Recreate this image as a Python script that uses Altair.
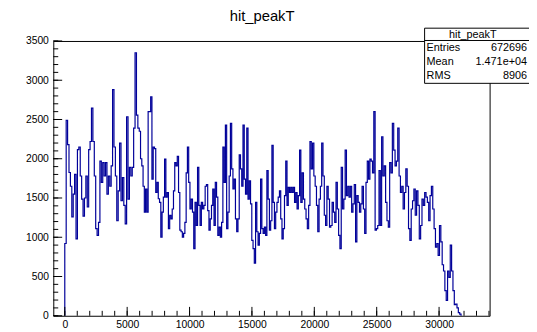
import altair as alt
import pandas as pd

# ---- histogram bin contents (left to right), in five stretches ----
counts_1 = [920, 2490, 2180, 1825, 1650, 1260, 1550, 1800, 980, 2115, 2150, 1780, 1485, 1270,
            1500, 1780, 1385, 2115, 2220, 2645, 2220, 1780, 1110, 1025, 1190, 1970, 1700, 1950,
            1780, 1950, 1550, 1780, 1650, 1910, 2880, 2150, 1780, 1210, 1590, 2200, 1465, 1760,
            1405, 1170, 2535, 1485, 1890, 1780, 1890, 2390, 3350, 2555, 2390]
counts_2 = [2350, 2000, 1910, 1650, 1320, 1615, 1320, 2600, 2600, 2790, 1740, 2150, 2130, 1570,
            1700, 1490, 1445, 1000, 1320, 1510, 1995, 1510, 1570, 1110, 1280, 1235, 1360, 1590,
            1950, 1910, 2030, 1570, 1090, 1070, 1000, 1050, 1190, 1820, 2150, 1700, 1360, 1485,
            1320, 855, 1445, 1150, 1890, 1405, 1150, 1445, 1360, 1405, 1650, 1670, 1340, 1090,
            1235, 1405, 1615, 1150, 1700, 1510, 1025, 1130]
counts_3 = [1000, 1190, 2150, 1700, 2430, 1110, 1320, 1780, 2450, 1870, 1615, 1740, 1235, 1070,
            1235, 2050, 1870, 1650, 2430, 1740, 1550, 2390, 1485, 1720, 1425, 960, 855, 670, 1445,
            1070, 900, 1050, 1740, 1110, 1050, 1130, 1025, 1850, 1485, 1090, 1210, 2170, 1445,
            1110, 1320, 1445, 1510, 1590, 1235, 980, 1110, 1530, 1970, 1405, 1635, 1570, 1635,
            1570, 1635, 1445, 1570, 1360, 1530, 2110]
counts_4 = [1445, 1820, 1485, 1360, 1235, 1110, 1405, 2220, 1870, 2200, 1780, 1650, 1405, 1070,
            1485, 1650, 2200, 1780, 1280, 1150, 1650, 1485, 1130, 1150, 1445, 1320, 1190, 1700,
            1360, 1025, 855, 1890, 1360, 1485, 2110, 1530, 1650, 1510, 1650, 1320, 1425, 1670,
            940, 1530, 1445, 1320, 1425, 1650, 1360, 1050, 1700, 1970, 1740, 1995, 1970, 1820,
            2600, 1090, 1110, 1150, 1850, 1150, 2280]
counts_5 = [1780, 1910, 1445, 1210, 1130, 1950, 1820, 2450, 2110, 1910, 1970, 2390, 1780, 1570,
            1650, 1360, 1570, 1870, 1650, 1110, 960, 1360, 1465, 1615, 1280, 1590, 1405, 980,
            1150, 1485, 1405, 1570, 1510, 1445, 1210, 1530, 1650, 1360, 1110, 875, 920, 770,
            1150, 940, 650, 570, 320, 195, 570, 490, 900, 570, 320, 140, 150, 100, 40, 20]
# x range (hit_peakT units) covered by each stretch above
stretch_edges = [0, 5970, 12470, 18920, 25500, 31760]

X_DOMAIN = [-920, 34050]
Y_DOMAIN = [0, 3500]

X_LABELS = [0, 5000, 10000, 15000, 20000, 25000, 30000]
X_MINOR = list(range(0, 35000, 1000))
Y_LABELS = [0, 500, 1000, 1500, 2000, 2500, 3000, 3500]
Y_MINOR = list(range(0, 3600, 100))

TITLE = "hit_peakT"
STAT_LABELS = ["Entries", "Mean", "RMS"]
STAT_VALUES = ["672696", "1.471e+04", "8906"]

W, H = 443, 279
LINE_COLOR = "#000099"
FONT = "Liberation Sans"

stretches = [counts_1, counts_2, counts_3, counts_4, counts_5]
rows = [{"x": stretch_edges[0], "y": 0, "o": 0}]
o = 1
for s, cs in enumerate(stretches):
    lo, hi = stretch_edges[s], stretch_edges[s + 1]
    bw = (hi - lo) / len(cs)
    for i, c in enumerate(cs):
        rows.append({"x": lo + i * bw, "y": c, "o": o})
        o += 1
rows.append({"x": stretch_edges[-1], "y": 0, "o": o})
hist_df = pd.DataFrame(rows)

xs = alt.Scale(domain=X_DOMAIN, nice=False, zero=False)
ys = alt.Scale(domain=Y_DOMAIN, nice=False, zero=False)
x_axis = alt.Axis(values=X_LABELS, ticks=False, domain=False, grid=False,
                  labelFontSize=10.5, labelPadding=4, title=None,
                  format="d", labelFont=FONT, labelColor="black", labelFlush=False)
y_axis = alt.Axis(values=Y_LABELS, ticks=False, domain=False, grid=False,
                  labelFontSize=10.5, labelPadding=5, title=None,
                  format="d", labelFont=FONT, labelColor="black")

hist = alt.Chart(hist_df).mark_line(
    interpolate="step-after", color=LINE_COLOR, strokeWidth=1.2
).encode(
    x=alt.X("x:Q", scale=xs, axis=x_axis),
    y=alt.Y("y:Q", scale=ys, axis=y_axis),
    order="o:Q",
)

ymaj = alt.Chart(pd.DataFrame({"v": Y_LABELS})).mark_rule(color="black", strokeWidth=1).encode(
    y=alt.Y("v:Q", scale=ys, axis=y_axis), x=alt.value(0), x2=alt.value(9))
ymin = alt.Chart(pd.DataFrame({"v": Y_MINOR})).mark_rule(color="black", strokeWidth=1).encode(
    y=alt.Y("v:Q", scale=ys, axis=y_axis), x=alt.value(0), x2=alt.value(5))
xmaj = alt.Chart(pd.DataFrame({"v": X_LABELS})).mark_rule(color="black", strokeWidth=1).encode(
    x=alt.X("v:Q", scale=xs, axis=x_axis), y=alt.value(H), y2=alt.value(H - 9))
xmin = alt.Chart(pd.DataFrame({"v": X_MINOR})).mark_rule(color="black", strokeWidth=1).encode(
    x=alt.X("v:Q", scale=xs, axis=x_axis), y=alt.value(H), y2=alt.value(H - 5))

one = alt.Data(values=[{"a": 1}])
title = alt.Chart(one).mark_text(fontSize=15, font=FONT, align="center", baseline="middle",
                                 color="black").encode(
    x=alt.value(212), y=alt.value(-25), text=alt.value(TITLE))

box = alt.Chart(one).mark_rect(fill="white", stroke="black", strokeWidth=1).encode(
    x=alt.value(377), x2=alt.value(500), y=alt.value(-13), y2=alt.value(43))
box_sep = alt.Chart(one).mark_rule(color="black", strokeWidth=1).encode(
    x=alt.value(377), x2=alt.value(500), y=alt.value(-0.5))
box_head = alt.Chart(one).mark_text(fontSize=11, font=FONT, align="center", baseline="middle",
                                    color="black").encode(
    x=alt.value(426), y=alt.value(-6.5), text=alt.value(TITLE))

stat_layers = []
for k, (lab, val) in enumerate(zip(STAT_LABELS, STAT_VALUES)):
    yy = 7 + k * 14.3
    stat_layers.append(alt.Chart(one).mark_text(fontSize=11, font=FONT, align="left",
                                                baseline="middle", color="black").encode(
        x=alt.value(379), y=alt.value(yy), text=alt.value(lab)))
    stat_layers.append(alt.Chart(one).mark_text(fontSize=11, font=FONT, align="right",
                                                baseline="middle", color="black").encode(
        x=alt.value(481), y=alt.value(yy), text=alt.value(val)))

chart = alt.layer(hist, ymaj, ymin, xmaj, xmin, title, box, box_sep, box_head, *stat_layers).properties(
    width=W, height=H,
    background="white",
    autosize=alt.AutoSizeParams(type="none"),
    padding={"left": 46, "top": 31, "right": 40, "bottom": 14},
).configure_view(stroke="black", strokeWidth=1)

chart.save("out.html", embed_options={"renderer": "svg", "actions": False})
